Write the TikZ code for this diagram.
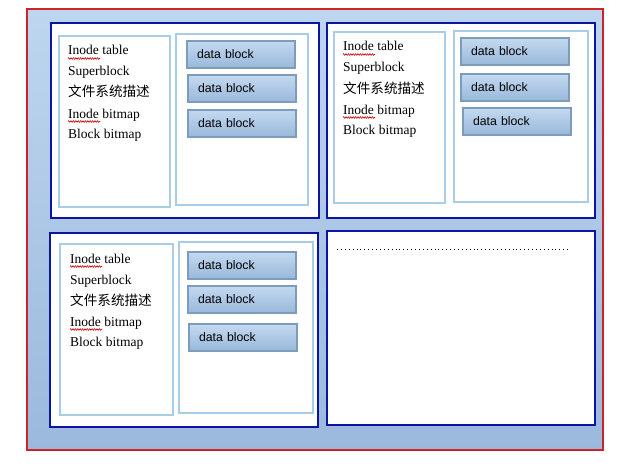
\documentclass[tikz,border=0pt]{standalone}
\usepackage{fontspec}
\setmainfont{Liberation Serif}
\newfontfamily\cjk{Noto Sans CJK SC}
\newfontfamily\arialf{Liberation Sans}
\usetikzlibrary{calc,decorations.pathmorphing}
\definecolor{bgtop}{HTML}{BED6EF}
\definecolor{bgbot}{HTML}{9BB9DD}
\definecolor{redline}{HTML}{CC2229}
\definecolor{navy}{HTML}{0A15A0}
\definecolor{inner}{HTML}{A8CDE6}
\definecolor{dbborder}{HTML}{7D9CBB}
\definecolor{dbtop}{HTML}{C4D9F0}
\definecolor{dbbot}{HTML}{98B8DA}
\tikzset{
  panel/.style={draw=navy, line width=2.4pt, fill=white, rectangle, anchor=north west, inner sep=0pt},
  innerbox/.style={draw=inner, line width=2pt, fill=white, rectangle, anchor=north west, inner sep=0pt},
  dblock/.style={draw=dbborder, line width=2pt, top color=dbtop, bottom color=dbbot, rectangle, anchor=north west,
    text width=88pt, inner xsep=10pt, inner ysep=0pt, minimum height=27pt, align=left,
    font=\arialf\fontsize{12.3}{14}\selectfont},
  txt/.style={anchor=base west, inner sep=0pt, font=\fontsize{13.5}{16}\selectfont},
  ctxt/.style={anchor=base west, inner sep=0pt, font=\cjk\fontsize{13.6}{16}\selectfont},
  squig/.style={draw=red!80!black, line width=0.6pt, decorate, decoration={zigzag, amplitude=0.8pt, segment length=2.4pt}}
}
\begin{document}
\begin{tikzpicture}[x=1pt,y=-1pt]
\useasboundingbox (0,0) rectangle (628,468);
\fill[white] (0,0) rectangle (628,468);
\shade[top color=bgtop, bottom color=bgbot] (27,9) rectangle (603,450);
\draw[redline, line width=2pt] (27,9) rectangle (603,450);

% panels
\node[panel, minimum width=268pt, minimum height=195pt] (p1) at (50,22) {};
\node[panel, minimum width=268pt, minimum height=195pt] (p2) at (326,22) {};
\node[panel, minimum width=268pt, minimum height=194pt] (p3) at (49,232) {};
\node[panel, minimum width=268pt, minimum height=194pt] (p4) at (326,230) {};

% panel 1
\node[innerbox, minimum width=111pt, minimum height=171pt] (l1) at (58,35) {};
\node[innerbox, minimum width=132pt, minimum height=171pt] (r1) at (175,33) {};
\node[dblock] (d11) at (186,40) {data block};
\node[dblock] (d12) at (187,74) {data block};
\node[dblock] (d13) at (187,109) {data block};
\node[txt] (a1) at (68,55) {Inode table};
\node[txt] (b1) at (68,76) {Superblock};
\node[ctxt] (c1) at (68,97) {文件系统描述};
\node[txt] (e1) at (68,118) {Inode bitmap};
\node[txt] (f1) at (68,138) {Block bitmap};
\draw[squig] ($(a1.base west)+(0,3.5)$) -- ++(32,0);
\draw[squig] ($(e1.base west)+(0,3.5)$) -- ++(32,0);

% panel 2
\node[innerbox, minimum width=111pt, minimum height=171pt] (l2) at (333,31) {};
\node[innerbox, minimum width=134pt, minimum height=171pt] (r2) at (453,30) {};
\node[dblock] (d21) at (460,37) {data block};
\node[dblock] (d22) at (460,73) {data block};
\node[dblock] (d23) at (462,107) {data block};
\node[txt] (a2) at (343,51) {Inode table};
\node[txt] (b2) at (343,72) {Superblock};
\node[ctxt] (c2) at (343,93) {文件系统描述};
\node[txt] (e2) at (343,114) {Inode bitmap};
\node[txt] (f2) at (343,134) {Block bitmap};
\draw[squig] ($(a2.base west)+(0,3.5)$) -- ++(32,0);
\draw[squig] ($(e2.base west)+(0,3.5)$) -- ++(32,0);

% panel 3
\node[innerbox, minimum width=113pt, minimum height=171pt] (l3) at (59,243) {};
\node[innerbox, minimum width=134pt, minimum height=171pt] (r3) at (178,241) {};
\node[dblock] (d31) at (187,251) {data block};
\node[dblock] (d32) at (187,285) {data block};
\node[dblock] (d33) at (188,323) {data block};
\node[txt] (a3) at (70,263) {Inode table};
\node[txt] (b3) at (70,284) {Superblock};
\node[ctxt] (c3) at (70,305) {文件系统描述};
\node[txt] (e3) at (70,326) {Inode bitmap};
\node[txt] (f3) at (70,346) {Block bitmap};
\draw[squig] ($(a3.base west)+(0,3.5)$) -- ++(32,0);
\draw[squig] ($(e3.base west)+(0,3.5)$) -- ++(32,0);

% panel 4 dotted line
\coordinate (dl) at (337,249.5);
\coordinate (dr) at (569,249.5);
\draw[black, line width=1pt, dash pattern=on 1pt off 2.9pt] (dl) -- (dr);
\end{tikzpicture}
\end{document}
